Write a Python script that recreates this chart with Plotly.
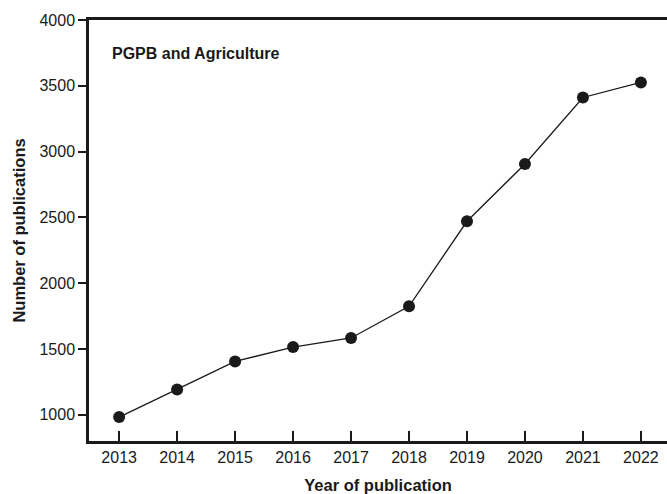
import plotly.graph_objects as go

years = [2013, 2014, 2015, 2016, 2017, 2018, 2019, 2020, 2021, 2022]
publications = [982, 1192, 1405, 1514, 1583, 1824, 2470, 2906, 3411, 3525]
y_ticks = [1000, 1500, 2000, 2500, 3000, 3500, 4000]

FONT = "Liberation Sans, Arial, sans-serif"
INK = "#1a1a1a"

fig = go.Figure()
fig.add_trace(go.Scatter(
    x=years, y=publications, mode="lines+markers",
    line=dict(color=INK, width=1.3),
    marker=dict(color=INK, size=12),
    showlegend=False, cliponaxis=False,
))

fig.add_annotation(
    x=0.036, y=0.92, xref="paper", yref="paper",
    text="<b>PGPB and Agriculture</b>", showarrow=False,
    xanchor="left", yanchor="middle",
    font=dict(family=FONT, size=16, color=INK),
)

fig.update_xaxes(
    range=[2012.48, 2022.45], tickvals=years,
    showline=True, linecolor=INK, linewidth=2.5, mirror=True,
    ticks="inside", ticklen=10, tickwidth=1.8, tickcolor=INK,
    showgrid=False, zeroline=False,
    tickfont=dict(family=FONT, size=16, color=INK),
    title=dict(text="<b>Year of publication</b>", standoff=15,
               font=dict(family=FONT, size=16.5, color=INK)),
)
fig.update_yaxes(
    range=[800, 4000], tickvals=y_ticks,
    showline=True, linecolor=INK, linewidth=2.5, mirror=False,
    ticks="outside", ticklen=8, tickwidth=1.8, tickcolor=INK,
    showgrid=False, zeroline=False,
    tickfont=dict(family=FONT, size=16, color=INK),
    title=dict(text="<b>Number of publications</b>", standoff=10,
               font=dict(family=FONT, size=16.5, color=INK)),
)

fig.update_layout(
    width=667, height=494,
    margin=dict(l=89, r=0, t=20, b=53),
    plot_bgcolor="white", paper_bgcolor="white",
)

fig.write_html("out.html")
